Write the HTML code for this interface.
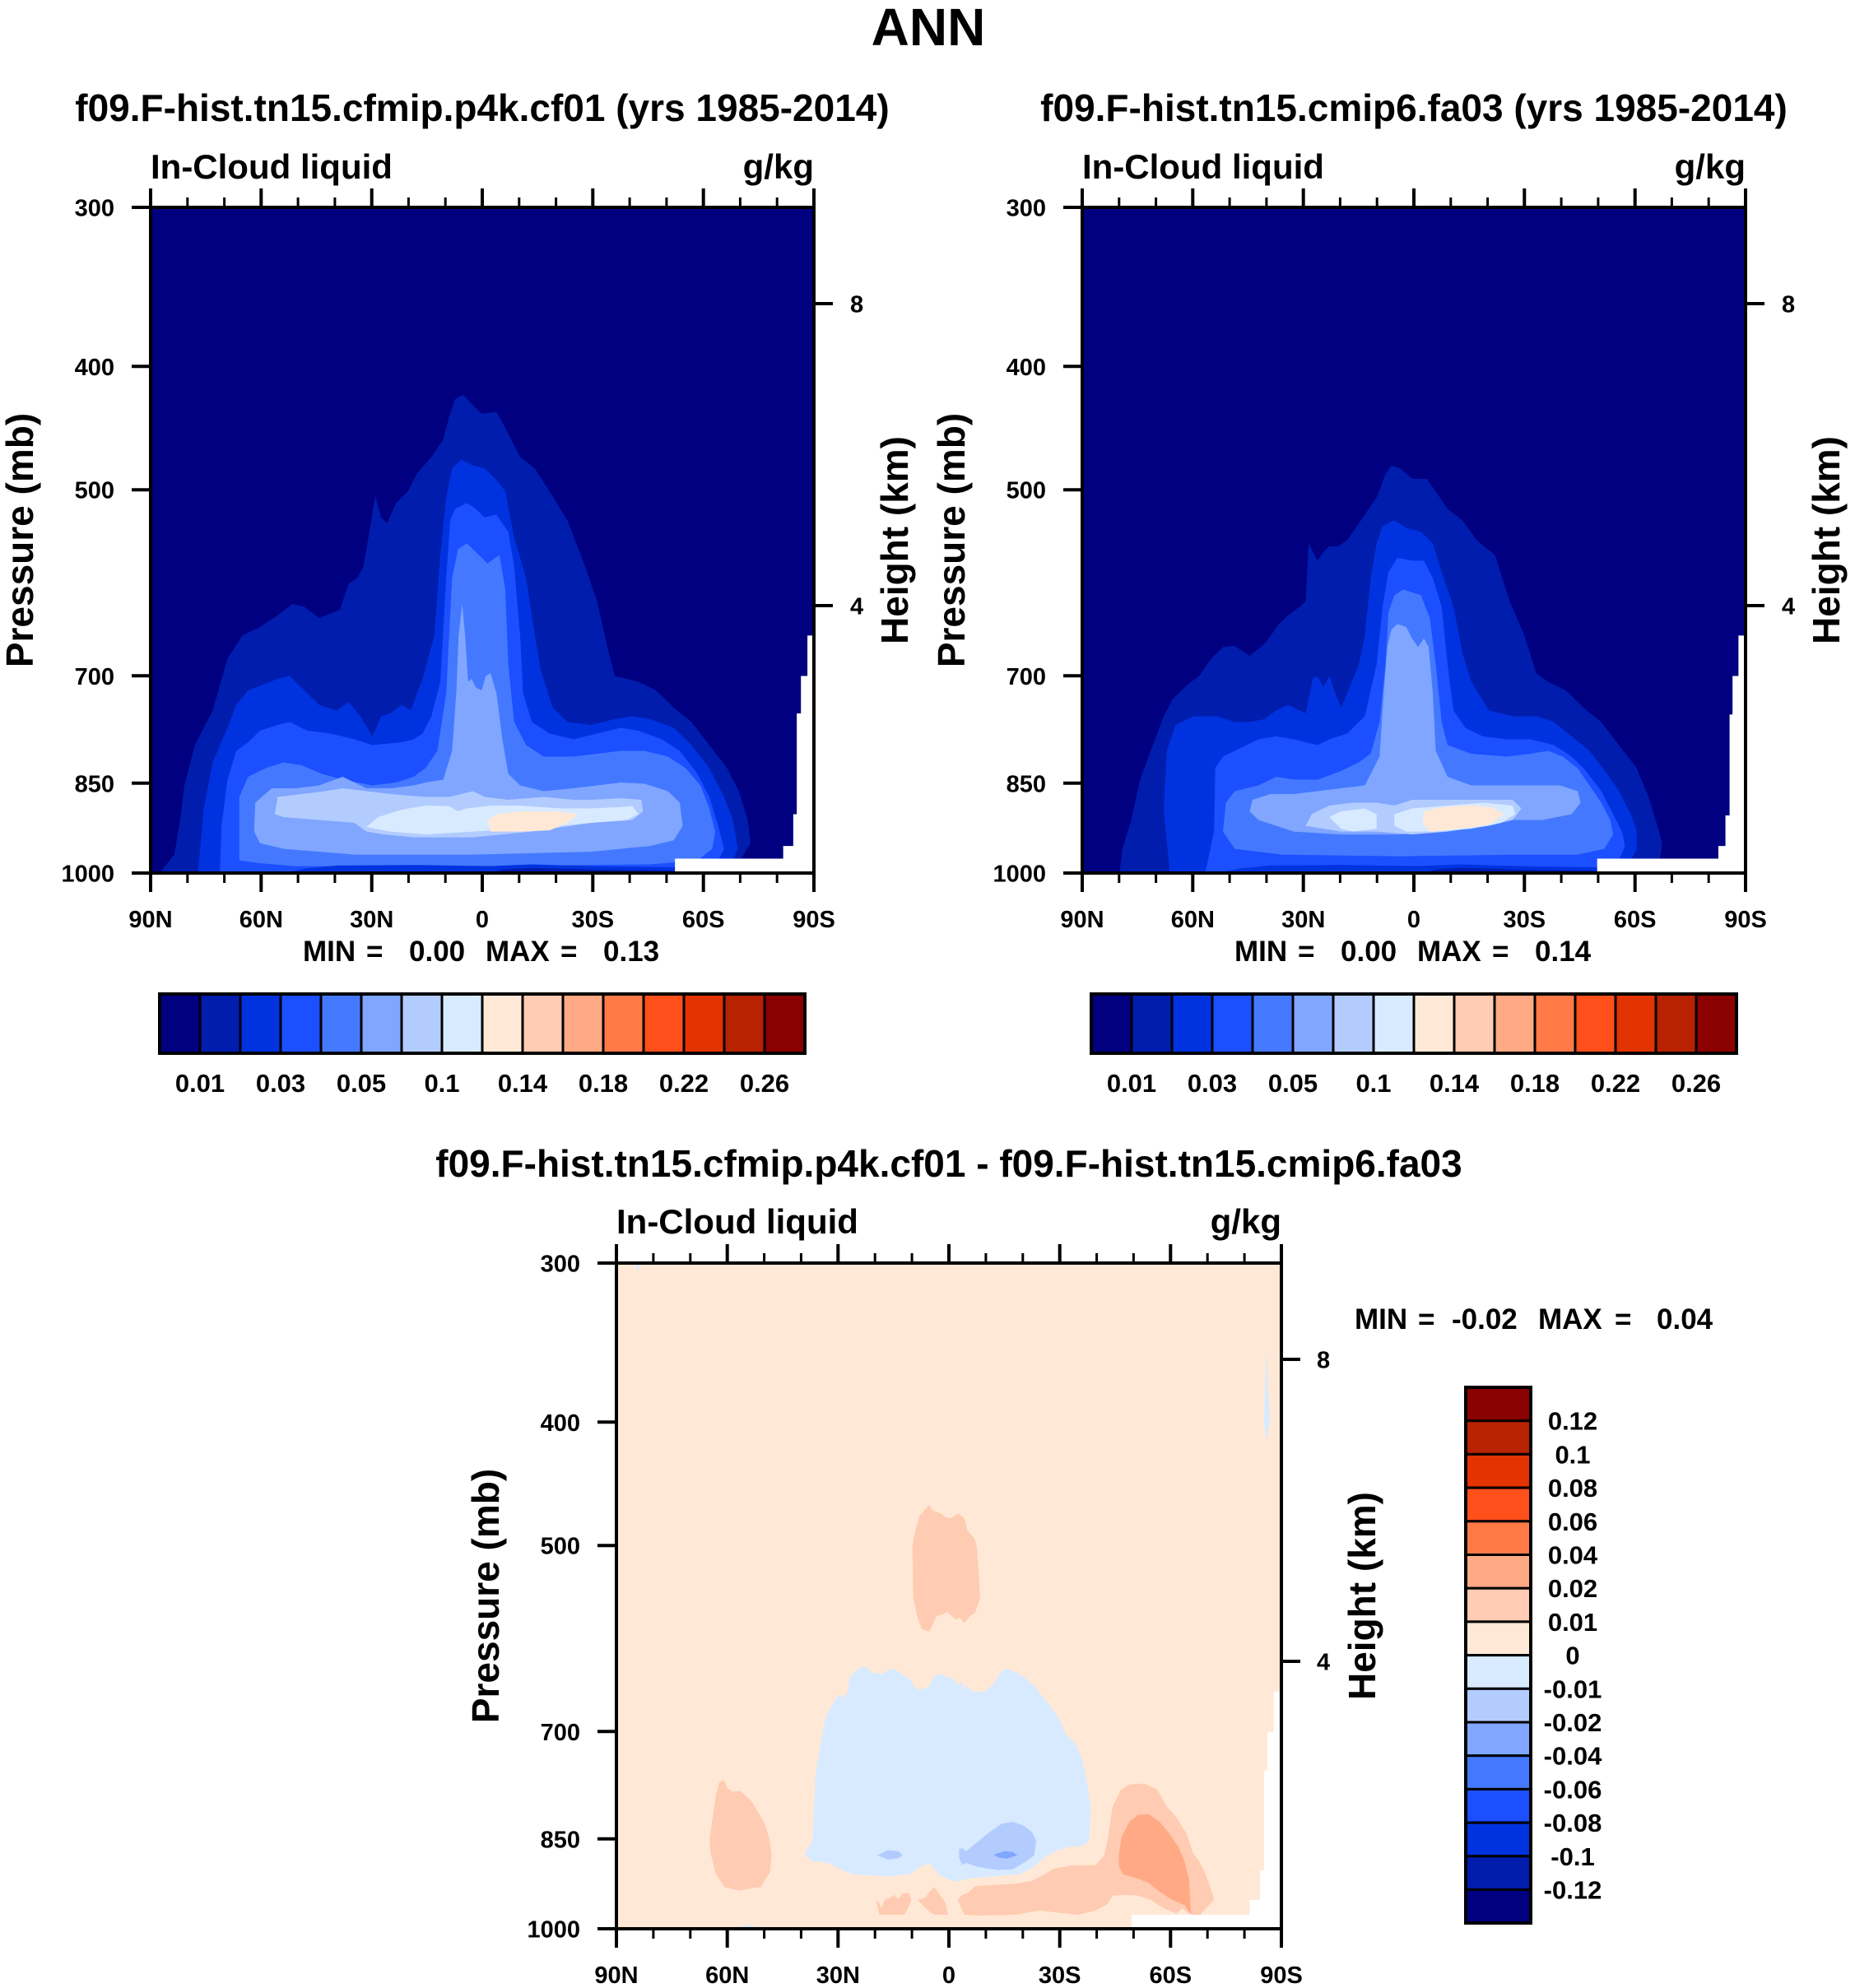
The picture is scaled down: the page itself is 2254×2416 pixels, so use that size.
<!DOCTYPE html>
<html><head><meta charset="utf-8"><style>
html,body{margin:0;padding:0;background:#fff;}
svg{display:block;}
text{font-family:"Liberation Sans",Arial,sans-serif;font-weight:bold;fill:#000;}
</style></head><body>
<svg width="2254" height="2416" viewBox="0 0 2254 2416" xmlns="http://www.w3.org/2000/svg">
<rect width="2254" height="2416" fill="#fff"/>
<text x="1128" y="55" font-size="64" text-anchor="middle">ANN</text>

<!-- ============ TOP LEFT PLOT ============ -->
<text x="586" y="147" font-size="46" text-anchor="middle">f09.F-hist.tn15.cfmip.p4k.cf01 (yrs 1985-2014)</text>
<text x="183" y="217" font-size="42">In-Cloud liquid</text>
<text x="989" y="217" font-size="42" text-anchor="end">g/kg</text>
<svg x="183" y="252" width="806" height="809" viewBox="255 357 1122 1155" preserveAspectRatio="none">
<rect x="200" y="300" width="1300" height="1300" fill="#000080"/>
<polygon fill="#001DAE" points="270,1512 295,1480 305,1420 312,1360 330,1290 360,1230 385,1140 410,1100 440,1085 470,1065 495,1045 515,1050 540,1070 575,1055 590,1010 605,1000 615,980 625,920 635,858 645,895 655,905 670,870 690,850 705,820 730,790 750,760 760,720 770,690 783,682 800,700 815,715 840,712 855,740 880,790 905,810 930,850 960,900 990,980 1010,1040 1030,1130 1040,1170 1080,1180 1110,1195 1140,1225 1170,1250 1200,1290 1230,1330 1250,1370 1265,1420 1270,1460 1255,1485 1245,1512"/>
<polygon fill="#0033DF" points="335,1512 345,1400 360,1320 385,1260 400,1220 420,1195 445,1185 470,1175 490,1170 510,1190 540,1220 570,1230 590,1215 610,1240 630,1275 645,1240 660,1235 680,1220 695,1230 715,1175 735,1100 745,960 755,860 765,810 780,795 800,805 820,810 840,830 855,850 870,930 890,1000 905,1100 915,1160 935,1225 960,1250 1000,1255 1040,1245 1070,1240 1100,1245 1140,1260 1170,1290 1200,1330 1225,1380 1240,1420 1248,1470 1240,1490 1232,1512"/>
<polygon fill="#1C4FFF" points="372,1512 375,1430 385,1350 400,1300 420,1285 440,1265 470,1255 490,1250 520,1265 560,1270 600,1280 630,1290 680,1285 700,1280 715,1270 730,1240 745,1180 755,1000 762,900 770,880 790,870 805,880 820,895 840,890 860,920 870,980 880,1100 885,1200 900,1250 930,1270 970,1280 1010,1270 1050,1260 1080,1265 1120,1280 1150,1300 1180,1340 1200,1380 1215,1430 1225,1470 1215,1490 1205,1512"/>
<polygon fill="#4479FF" points="405,1490 405,1380 420,1345 450,1330 480,1320 510,1325 545,1340 580,1350 630,1360 670,1355 700,1345 720,1330 740,1300 755,1200 765,1000 775,950 790,940 810,960 825,975 845,960 855,1020 860,1150 870,1250 890,1290 920,1310 970,1310 1010,1305 1050,1300 1090,1300 1130,1310 1160,1330 1185,1360 1200,1400 1210,1440 1205,1470 1180,1490 1100,1497 800,1500 500,1500 440,1495"/>
<polygon fill="#80A6FF" points="430,1440 432,1390 460,1365 500,1365 540,1360 580,1345 620,1365 660,1365 700,1360 720,1355 750,1350 765,1300 772,1200 776,1100 782,1045 787,1100 792,1180 798,1175 805,1190 815,1195 822,1170 830,1165 840,1200 850,1280 860,1340 880,1360 920,1370 970,1365 1010,1360 1050,1355 1090,1357 1130,1370 1150,1390 1155,1430 1140,1455 1100,1465 1000,1475 800,1480 600,1480 480,1470 440,1460"/>
<polygon fill="#B3CCFF" points="465,1410 470,1380 510,1375 550,1370 580,1365 620,1370 660,1375 720,1380 760,1380 780,1375 800,1370 820,1380 860,1385 920,1380 970,1385 1000,1385 1050,1382 1085,1385 1088,1405 1070,1420 1000,1425 900,1440 850,1445 800,1450 700,1450 650,1445 620,1440 600,1425 540,1420 480,1415"/>
<polygon fill="#D8EAFF" points="620,1432 640,1415 680,1402 720,1395 760,1396 775,1405 790,1400 830,1395 880,1395 950,1400 1000,1400 1040,1398 1070,1396 1080,1410 1060,1420 1000,1425 950,1430 880,1435 800,1440 720,1445 660,1440"/>
<polygon fill="#FFE9D6" points="825,1420 840,1410 880,1405 940,1405 978,1410 960,1425 930,1438 880,1440 830,1440"/>
<polygon fill="#0033DF" points="480,1512 520,1504 570,1499 700,1498 830,1500 900,1497 1000,1500 1142,1502 1142,1512"/>
<polygon fill="#001DAE" points="830,1512 850,1506 900,1503 1000,1506 1142,1508 1142,1512"/>
<polygon fill="#fff" points="1377,1100 1366,1100 1366,1170 1355,1170 1355,1235 1348,1235 1348,1410 1342,1410 1342,1465 1325,1465 1325,1487 1142,1487 1142,1512 1400,1512 1400,1100"/>
</svg>
<rect x="183" y="252" width="806" height="809" fill="none" stroke="#000" stroke-width="4"/>
<path stroke="#000" stroke-width="4" fill="none" d="M183,252v-23M317.3,252v-23M451.7,252v-23M586,252v-23M720.3,252v-23M854.7,252v-23M989,252v-23M183,1061v23M317.3,1061v23M451.7,1061v23M586,1061v23M720.3,1061v23M854.7,1061v23M989,1061v23M183,252h-23M183,445.3h-23M183,595.2h-23M183,821.3h-23M183,951.8h-23M183,1061h-23M989,369h23M989,736h23"/>
<path stroke="#000" stroke-width="3" fill="none" d="M227.8,252v-12M272.6,252v-12M362.1,252v-12M406.9,252v-12M496.4,252v-12M541.2,252v-12M630.8,252v-12M675.6,252v-12M765.1,252v-12M809.9,252v-12M899.4,252v-12M944.2,252v-12M227.8,1061v12M272.6,1061v12M362.1,1061v12M406.9,1061v12M496.4,1061v12M541.2,1061v12M630.8,1061v12M675.6,1061v12M765.1,1061v12M809.9,1061v12M899.4,1061v12M944.2,1061v12"/>
<g font-size="29" text-anchor="end">
<text x="139" y="262.5">300</text><text x="139" y="455.8">400</text><text x="139" y="605.7">500</text><text x="139" y="831.8">700</text><text x="139" y="962.3">850</text><text x="139" y="1071.5">1000</text>
</g>
<g font-size="29"><text x="1033" y="379.5">8</text><text x="1033" y="746.5">4</text></g>
<g font-size="29" text-anchor="middle">
<text x="183" y="1127">90N</text><text x="317.3" y="1127">60N</text><text x="451.7" y="1127">30N</text><text x="586" y="1127">0</text><text x="720.3" y="1127">30S</text><text x="854.7" y="1127">60S</text><text x="989" y="1127">90S</text>
</g>
<text transform="translate(40,656.5) rotate(-90)" font-size="46" text-anchor="middle">Pressure (mb)</text>
<text transform="translate(1103,656.5) rotate(-90)" font-size="46" text-anchor="middle">Height (km)</text>
<g font-size="35"><text x="368" y="1168">MIN</text><text x="445" y="1168">=</text><text x="497" y="1168">0.00</text><text x="590" y="1168">MAX</text><text x="681" y="1168">=</text><text x="733" y="1168">0.13</text></g>
<g stroke="#000" stroke-width="3">
<rect x="194" y="1208" width="49" height="72" fill="#000080"/><rect x="243" y="1208" width="49" height="72" fill="#001DAE"/><rect x="292" y="1208" width="49" height="72" fill="#0033DF"/><rect x="341" y="1208" width="49" height="72" fill="#1C4FFF"/><rect x="390" y="1208" width="49" height="72" fill="#4479FF"/><rect x="439" y="1208" width="49" height="72" fill="#80A6FF"/><rect x="488" y="1208" width="49" height="72" fill="#B3CCFF"/><rect x="537" y="1208" width="49" height="72" fill="#D8EAFF"/><rect x="586" y="1208" width="49" height="72" fill="#FFE9D6"/><rect x="635" y="1208" width="49" height="72" fill="#FFCBB2"/><rect x="684" y="1208" width="49" height="72" fill="#FFAA85"/><rect x="733" y="1208" width="49" height="72" fill="#FF7A47"/><rect x="782" y="1208" width="49" height="72" fill="#FF4F1A"/><rect x="831" y="1208" width="49" height="72" fill="#E33300"/><rect x="880" y="1208" width="49" height="72" fill="#B82200"/><rect x="929" y="1208" width="49" height="72" fill="#8B0000"/>
</g>
<rect x="194" y="1208" width="784" height="72" fill="none" stroke="#000" stroke-width="4"/>
<g font-size="31" text-anchor="middle">
<text x="243" y="1327">0.01</text><text x="341" y="1327">0.03</text><text x="439" y="1327">0.05</text><text x="537" y="1327">0.1</text><text x="635" y="1327">0.14</text><text x="733" y="1327">0.18</text><text x="831" y="1327">0.22</text><text x="929" y="1327">0.26</text>
</g>

<!-- ============ TOP RIGHT PLOT ============ -->
<text x="1718" y="147" font-size="46" text-anchor="middle">f09.F-hist.tn15.cmip6.fa03 (yrs 1985-2014)</text>
<text x="1315" y="217" font-size="42">In-Cloud liquid</text>
<text x="2121" y="217" font-size="42" text-anchor="end">g/kg</text>
<svg x="1315" y="252" width="806" height="809" viewBox="262 357 1122 1155" preserveAspectRatio="none">
<rect x="200" y="300" width="1300" height="1300" fill="#000080"/>
<polygon fill="#001DAE" points="325,1512 330,1470 345,1420 360,1350 385,1280 400,1240 415,1210 440,1185 460,1170 480,1140 500,1120 520,1118 545,1135 570,1115 595,1080 610,1065 630,1050 640,1040 645,940 655,960 660,970 670,955 680,945 695,945 710,935 740,890 760,860 775,820 785,805 800,810 820,828 845,828 860,850 880,880 905,900 930,935 960,960 985,1040 1010,1100 1030,1165 1050,1180 1080,1195 1110,1225 1140,1250 1170,1290 1200,1330 1220,1380 1235,1430 1243,1460 1240,1485 1225,1512"/>
<polygon fill="#0033DF" points="410,1512 400,1400 405,1300 420,1255 450,1240 490,1240 520,1250 545,1250 570,1245 590,1230 610,1220 630,1230 640,1235 652,1175 660,1170 670,1190 680,1170 690,1200 700,1225 710,1200 730,1150 740,1100 750,1000 760,940 770,910 790,900 810,913 835,920 855,940 870,990 890,1050 905,1130 920,1180 950,1230 990,1240 1030,1240 1060,1250 1090,1275 1120,1300 1150,1340 1170,1370 1190,1410 1200,1440 1200,1470 1190,1490 1182,1512"/>
<polygon fill="#1C4FFF" points="470,1512 485,1440 487,1330 500,1310 530,1295 560,1280 590,1275 620,1280 640,1285 660,1290 680,1280 710,1270 740,1240 760,1150 770,1050 780,990 795,965 820,970 840,970 855,1000 870,1050 880,1150 890,1230 910,1260 940,1275 980,1280 1020,1280 1060,1290 1090,1310 1110,1330 1140,1370 1160,1410 1175,1440 1180,1465 1170,1490 1160,1512"/>
<polygon fill="#4479FF" points="500,1440 505,1390 520,1370 560,1360 590,1345 620,1350 660,1350 700,1335 730,1320 750,1305 765,1250 775,1150 780,1060 790,1030 805,1020 820,1025 835,1030 850,1070 860,1150 870,1250 880,1290 920,1305 980,1310 1020,1305 1050,1300 1075,1310 1100,1330 1120,1360 1140,1390 1155,1420 1160,1445 1145,1470 1100,1480 1000,1480 800,1483 600,1480 520,1470"/>
<polygon fill="#80A6FF" points="545,1405 550,1385 580,1375 620,1375 660,1370 700,1365 740,1360 765,1310 772,1200 778,1120 785,1090 795,1080 810,1085 820,1105 830,1120 840,1105 848,1120 855,1200 860,1300 880,1345 920,1360 980,1360 1030,1360 1070,1360 1100,1370 1105,1390 1090,1410 1040,1420 980,1420 900,1435 800,1445 700,1445 620,1440 560,1420"/>
<polygon fill="#B3CCFF" points="640,1430 650,1410 680,1395 720,1390 760,1390 790,1395 820,1385 860,1385 900,1385 950,1385 990,1385 1005,1400 990,1420 950,1430 880,1440 820,1445 760,1440 700,1440"/>
<polygon fill="#D8EAFF" points="680,1415 700,1405 740,1400 760,1410 760,1435 720,1440 700,1435"/>
<polygon fill="#D8EAFF" points="790,1410 820,1400 880,1395 940,1390 990,1395 995,1410 970,1425 920,1435 860,1440 810,1440 790,1430"/>
<polygon fill="#FFE9D6" points="840,1405 870,1398 920,1395 955,1398 975,1410 950,1428 900,1435 850,1440 838,1425"/>
<polygon fill="#0033DF" points="490,1512 530,1504 580,1499 700,1498 830,1500 900,1497 1000,1500 1133,1502 1133,1512"/>
<polygon fill="#001DAE" points="840,1512 860,1506 900,1503 1000,1506 1133,1508 1133,1512"/>
<polygon fill="#fff" points="1384,1100 1372,1100 1372,1170 1362,1170 1362,1237 1357,1237 1357,1412 1350,1412 1350,1465 1338,1465 1338,1487 1133,1487 1133,1512 1400,1512 1400,1100"/>
</svg>
<rect x="1315" y="252" width="806" height="809" fill="none" stroke="#000" stroke-width="4"/>
<g transform="translate(1132,0)">
<path stroke="#000" stroke-width="4" fill="none" d="M183,252v-23M317.3,252v-23M451.7,252v-23M586,252v-23M720.3,252v-23M854.7,252v-23M989,252v-23M183,1061v23M317.3,1061v23M451.7,1061v23M586,1061v23M720.3,1061v23M854.7,1061v23M989,1061v23M183,252h-23M183,445.3h-23M183,595.2h-23M183,821.3h-23M183,951.8h-23M183,1061h-23M989,369h23M989,736h23"/>
<path stroke="#000" stroke-width="3" fill="none" d="M227.8,252v-12M272.6,252v-12M362.1,252v-12M406.9,252v-12M496.4,252v-12M541.2,252v-12M630.8,252v-12M675.6,252v-12M765.1,252v-12M809.9,252v-12M899.4,252v-12M944.2,252v-12M227.8,1061v12M272.6,1061v12M362.1,1061v12M406.9,1061v12M496.4,1061v12M541.2,1061v12M630.8,1061v12M675.6,1061v12M765.1,1061v12M809.9,1061v12M899.4,1061v12M944.2,1061v12"/>
<g font-size="29" text-anchor="end">
<text x="139" y="262.5">300</text><text x="139" y="455.8">400</text><text x="139" y="605.7">500</text><text x="139" y="831.8">700</text><text x="139" y="962.3">850</text><text x="139" y="1071.5">1000</text>
</g>
<g font-size="29"><text x="1033" y="379.5">8</text><text x="1033" y="746.5">4</text></g>
<g font-size="29" text-anchor="middle">
<text x="183" y="1127">90N</text><text x="317.3" y="1127">60N</text><text x="451.7" y="1127">30N</text><text x="586" y="1127">0</text><text x="720.3" y="1127">30S</text><text x="854.7" y="1127">60S</text><text x="989" y="1127">90S</text>
</g>
<text transform="translate(40,656.5) rotate(-90)" font-size="46" text-anchor="middle">Pressure (mb)</text>
<text transform="translate(1103,656.5) rotate(-90)" font-size="46" text-anchor="middle">Height (km)</text>
<g font-size="35"><text x="368" y="1168">MIN</text><text x="445" y="1168">=</text><text x="497" y="1168">0.00</text><text x="590" y="1168">MAX</text><text x="681" y="1168">=</text><text x="733" y="1168">0.14</text></g>
<g stroke="#000" stroke-width="3">
<rect x="194" y="1208" width="49" height="72" fill="#000080"/><rect x="243" y="1208" width="49" height="72" fill="#001DAE"/><rect x="292" y="1208" width="49" height="72" fill="#0033DF"/><rect x="341" y="1208" width="49" height="72" fill="#1C4FFF"/><rect x="390" y="1208" width="49" height="72" fill="#4479FF"/><rect x="439" y="1208" width="49" height="72" fill="#80A6FF"/><rect x="488" y="1208" width="49" height="72" fill="#B3CCFF"/><rect x="537" y="1208" width="49" height="72" fill="#D8EAFF"/><rect x="586" y="1208" width="49" height="72" fill="#FFE9D6"/><rect x="635" y="1208" width="49" height="72" fill="#FFCBB2"/><rect x="684" y="1208" width="49" height="72" fill="#FFAA85"/><rect x="733" y="1208" width="49" height="72" fill="#FF7A47"/><rect x="782" y="1208" width="49" height="72" fill="#FF4F1A"/><rect x="831" y="1208" width="49" height="72" fill="#E33300"/><rect x="880" y="1208" width="49" height="72" fill="#B82200"/><rect x="929" y="1208" width="49" height="72" fill="#8B0000"/>
</g>
<rect x="194" y="1208" width="784" height="72" fill="none" stroke="#000" stroke-width="4"/>
<g font-size="31" text-anchor="middle">
<text x="243" y="1327">0.01</text><text x="341" y="1327">0.03</text><text x="439" y="1327">0.05</text><text x="537" y="1327">0.1</text><text x="635" y="1327">0.14</text><text x="733" y="1327">0.18</text><text x="831" y="1327">0.22</text><text x="929" y="1327">0.26</text>
</g>
</g>

<!-- ============ BOTTOM DIFF PLOT ============ -->
<text x="1153" y="1430" font-size="46" text-anchor="middle">f09.F-hist.tn15.cfmip.p4k.cf01 - f09.F-hist.tn15.cmip6.fa03</text>
<text x="749" y="1499" font-size="42">In-Cloud liquid</text>
<text x="1557" y="1499" font-size="42" text-anchor="end">g/kg</text>
<svg x="749" y="1535" width="808" height="809" viewBox="0 0 1568 1568" preserveAspectRatio="none">
<rect x="-10" y="-10" width="1600" height="1600" fill="#FFE9D6"/>
<polygon fill="#D8EAFF" points="45,0 57,0 50,22"/>
<polygon fill="#D8EAFF" points="1533,200 1541,370 1534,422 1527,375"/>
<polygon fill="#FFCBB2" points="698,665 705,630 715,595 728,580 738,570 745,582 765,590 778,600 790,600 805,590 820,600 828,630 845,650 850,670 858,790 845,825 835,830 820,848 810,835 800,840 780,822 768,828 755,832 738,868 720,862 710,835 700,790"/>
<polygon fill="#D8EAFF" points="445,1390 462,1360 470,1200 485,1110 495,1065 512,1035 525,1015 535,1025 545,1010 550,975 570,955 585,950 605,965 625,968 640,960 655,955 668,965 690,978 705,1000 715,1005 735,1000 748,975 765,968 780,975 795,980 808,995 815,985 820,1005 828,995 835,1005 848,1012 860,1008 870,1010 880,1000 890,990 905,965 920,955 932,960 945,965 960,975 985,995 1000,1015 1020,1040 1045,1075 1060,1110 1085,1135 1100,1175 1110,1225 1118,1280 1115,1360 1100,1372 1070,1375 1040,1383 1010,1400 980,1425 950,1440 880,1445 830,1450 810,1455 790,1455 760,1440 740,1415 720,1420 690,1440 640,1445 600,1442 560,1440 530,1430 505,1415 480,1410 465,1410 450,1400"/>
<polygon fill="#B3CCFF" points="615,1395 640,1383 665,1385 675,1395 665,1402 640,1405"/>
<polygon fill="#B3CCFF" points="808,1380 815,1378 825,1385 850,1365 880,1340 910,1320 935,1316 960,1325 980,1340 990,1360 985,1395 965,1410 935,1428 900,1430 850,1422 825,1413 815,1418 808,1400"/>
<polygon fill="#80A6FF" points="890,1393 915,1385 935,1387 945,1395 920,1403 900,1400"/>
<polygon fill="#FFCBB2" points="220,1355 235,1250 243,1222 253,1218 262,1237 275,1245 292,1243 305,1255 320,1270 335,1295 350,1320 362,1360 366,1395 362,1435 340,1470 320,1472 290,1478 255,1470 235,1440 222,1390"/>
<polygon fill="#FFCBB2" points="805,1500 815,1488 830,1483 845,1468 880,1465 940,1462 980,1455 1010,1440 1030,1427 1075,1418 1130,1418 1150,1395 1160,1350 1170,1280 1190,1240 1210,1228 1245,1226 1275,1240 1298,1280 1320,1305 1345,1345 1360,1390 1375,1410 1390,1440 1400,1470 1410,1500 1380,1530 1378,1535 1360,1535 1345,1530 1335,1520 1320,1532 1290,1520 1260,1500 1230,1490 1200,1488 1170,1490 1158,1510 1130,1525 1090,1535 1040,1530 1000,1525 970,1530 940,1535 850,1537 820,1535"/>
<polygon fill="#FFAA85" points="1185,1390 1192,1350 1210,1315 1230,1300 1255,1298 1280,1315 1305,1345 1325,1375 1340,1410 1350,1450 1355,1535 1340,1512 1310,1500 1280,1480 1255,1460 1230,1450 1195,1440 1185,1420"/>
<polygon fill="#FFCBB2" points="612,1500 618,1505 625,1520 632,1500 645,1495 655,1488 665,1498 675,1485 690,1483 695,1500 688,1520 678,1535 620,1535"/>
<polygon fill="#FFCBB2" points="710,1500 728,1495 740,1478 750,1470 760,1485 775,1505 782,1535 750,1535 735,1525 720,1510"/>
<ellipse cx="310" cy="1568" rx="20" ry="8" fill="#D8EAFF"/>
<polygon fill="#fff" points="1570,1010 1550,1010 1550,1105 1535,1105 1535,1195 1527,1195 1527,1430 1518,1430 1518,1500 1493,1500 1493,1535 1215,1535 1215,1570 1570,1570"/>
</svg>
<rect x="749" y="1535" width="808" height="809" fill="none" stroke="#000" stroke-width="4"/>
<path stroke="#000" stroke-width="4" fill="none" d="M749,1535v-23M883.7,1535v-23M1018.3,1535v-23M1153,1535v-23M1287.7,1535v-23M1422.3,1535v-23M1557,1535v-23M749,2344v23M883.7,2344v23M1018.3,2344v23M1153,2344v23M1287.7,2344v23M1422.3,2344v23M1557,2344v23M749,1535h-23M749,1728.3h-23M749,1878.2h-23M749,2104.3h-23M749,2234.8h-23M749,2344h-23M1557,1652h23M1557,2019h23"/>
<path stroke="#000" stroke-width="3" fill="none" d="M793.9,1535v-12M838.8,1535v-12M928.6,1535v-12M973.4,1535v-12M1063.2,1535v-12M1108.1,1535v-12M1197.9,1535v-12M1242.8,1535v-12M1332.6,1535v-12M1377.4,1535v-12M1467.2,1535v-12M1512.1,1535v-12M793.9,2344v12M838.8,2344v12M928.6,2344v12M973.4,2344v12M1063.2,2344v12M1108.1,2344v12M1197.9,2344v12M1242.8,2344v12M1332.6,2344v12M1377.4,2344v12M1467.2,2344v12M1512.1,2344v12"/>
<g font-size="29" text-anchor="end">
<text x="705" y="1545.5">300</text><text x="705" y="1738.8">400</text><text x="705" y="1888.7">500</text><text x="705" y="2114.8">700</text><text x="705" y="2245.3">850</text><text x="705" y="2354.5">1000</text>
</g>
<g font-size="29"><text x="1600" y="1662.5">8</text><text x="1600" y="2029.5">4</text></g>
<g font-size="29" text-anchor="middle">
<text x="749" y="2410">90N</text><text x="883.7" y="2410">60N</text><text x="1018.3" y="2410">30N</text><text x="1153" y="2410">0</text><text x="1287.7" y="2410">30S</text><text x="1422.3" y="2410">60S</text><text x="1557" y="2410">90S</text>
</g>
<text transform="translate(606,1939.5) rotate(-90)" font-size="46" text-anchor="middle">Pressure (mb)</text>
<text transform="translate(1671,1939.5) rotate(-90)" font-size="46" text-anchor="middle">Height (km)</text>
<g font-size="35"><text x="1646" y="1615">MIN</text><text x="1723" y="1615">=</text><text x="1764" y="1615">-0.02</text><text x="1869" y="1615">MAX</text><text x="1962" y="1615">=</text><text x="2013" y="1615">0.04</text></g>
<g stroke="#000" stroke-width="3">
<rect x="1781" y="1686" width="79" height="40.7" fill="#8B0000"/><rect x="1781" y="1726.7" width="79" height="40.7" fill="#B82200"/><rect x="1781" y="1767.4" width="79" height="40.7" fill="#E33300"/><rect x="1781" y="1808.1" width="79" height="40.7" fill="#FF4F1A"/><rect x="1781" y="1848.8" width="79" height="40.7" fill="#FF7A47"/><rect x="1781" y="1889.5" width="79" height="40.7" fill="#FFAA85"/><rect x="1781" y="1930.2" width="79" height="40.7" fill="#FFCBB2"/><rect x="1781" y="1970.9" width="79" height="40.7" fill="#FFE9D6"/><rect x="1781" y="2011.6" width="79" height="40.7" fill="#D8EAFF"/><rect x="1781" y="2052.3" width="79" height="40.7" fill="#B3CCFF"/><rect x="1781" y="2093" width="79" height="40.7" fill="#80A6FF"/><rect x="1781" y="2133.7" width="79" height="40.7" fill="#4479FF"/><rect x="1781" y="2174.4" width="79" height="40.7" fill="#1C4FFF"/><rect x="1781" y="2215.1" width="79" height="40.7" fill="#0033DF"/><rect x="1781" y="2255.8" width="79" height="40.7" fill="#001DAE"/><rect x="1781" y="2296.5" width="79" height="40.5" fill="#000080"/>
</g>
<rect x="1781" y="1686" width="79" height="651" fill="none" stroke="#000" stroke-width="4"/>
<g font-size="31" text-anchor="middle">
<text x="1911" y="1737.7">0.12</text><text x="1911" y="1778.4">0.1</text><text x="1911" y="1819.1">0.08</text><text x="1911" y="1859.8">0.06</text><text x="1911" y="1900.5">0.04</text><text x="1911" y="1941.2">0.02</text><text x="1911" y="1981.9">0.01</text><text x="1911" y="2022.6">0</text><text x="1911" y="2063.3">-0.01</text><text x="1911" y="2104">-0.02</text><text x="1911" y="2144.7">-0.04</text><text x="1911" y="2185.4">-0.06</text><text x="1911" y="2226.1">-0.08</text><text x="1911" y="2266.8">-0.1</text><text x="1911" y="2307.5">-0.12</text>
</g>
</svg>
</body></html>
